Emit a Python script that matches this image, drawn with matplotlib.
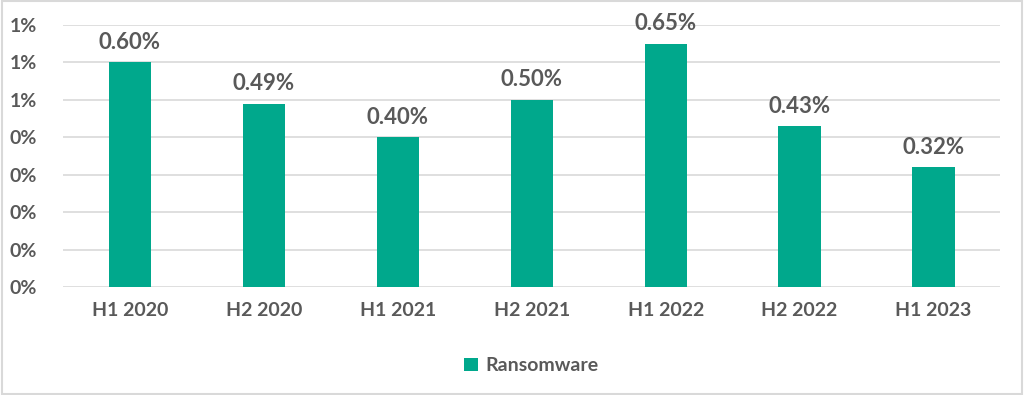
import numpy as np
from matplotlib import pyplot as plt
from matplotlib.patches import Rectangle

periods = ['H1 2020', 'H2 2020', 'H1 2021', 'H2 2021', 'H1 2022', 'H2 2022', 'H1 2023']
ransomware = [0.60, 0.49, 0.40, 0.50, 0.65, 0.43, 0.32]
yticks = [0.0, 0.1, 0.2, 0.3, 0.4, 0.5, 0.6, 0.7]
ytick_labels = ['0%', '0%', '0%', '0%', '0%', '1%', '1%', '1%']

grey = '#595959'
green = '#00a88c'

plt.rcParams['font.family'] = ['Lato', 'DejaVu Sans']
plt.rcParams['font.weight'] = 'bold'

fig = plt.figure(figsize=(10.24, 3.95), dpi=100)
ax = fig.add_axes([0.0615, 0.273, 0.9155, 0.664])

x = np.arange(len(periods))
ax.bar(x, ransomware, width=0.315, color=green, label='Ransomware', zorder=3)
for xi, v in zip(x, ransomware):
    ax.text(xi, v + 0.025, f'{v:.2f}%', ha='center', va='bottom',
            fontsize=16, fontweight='bold', color=grey)

ax.set_xlim(-0.5, len(periods) - 0.5)
ax.set_ylim(0, 0.7)
ax.set_yticks(yticks)
ax.set_yticklabels(ytick_labels)
ax.set_xticks(x)
ax.set_xticklabels(periods)
ax.tick_params(axis='both', length=0, labelsize=14, colors=grey)
ax.tick_params(axis='y', pad=19)
ax.tick_params(axis='x', pad=11)
ax.yaxis.grid(True, color='#d9d9d9', linewidth=1.2, zorder=0)
for s in ax.spines.values():
    s.set_visible(False)

ax.legend(loc='upper center', bbox_to_anchor=(0.5, -0.2), frameon=False,
          prop={'size': 14, 'weight': 'bold'}, labelcolor=grey,
          handlelength=0.7, handleheight=0.7, handletextpad=0.4)

fig.patches.append(Rectangle((0.002, 0.003), 0.996, 0.994, transform=fig.transFigure,
                             fill=False, edgecolor='#d9d9d9', linewidth=1.5))

fig.savefig('out.png', dpi=100)
